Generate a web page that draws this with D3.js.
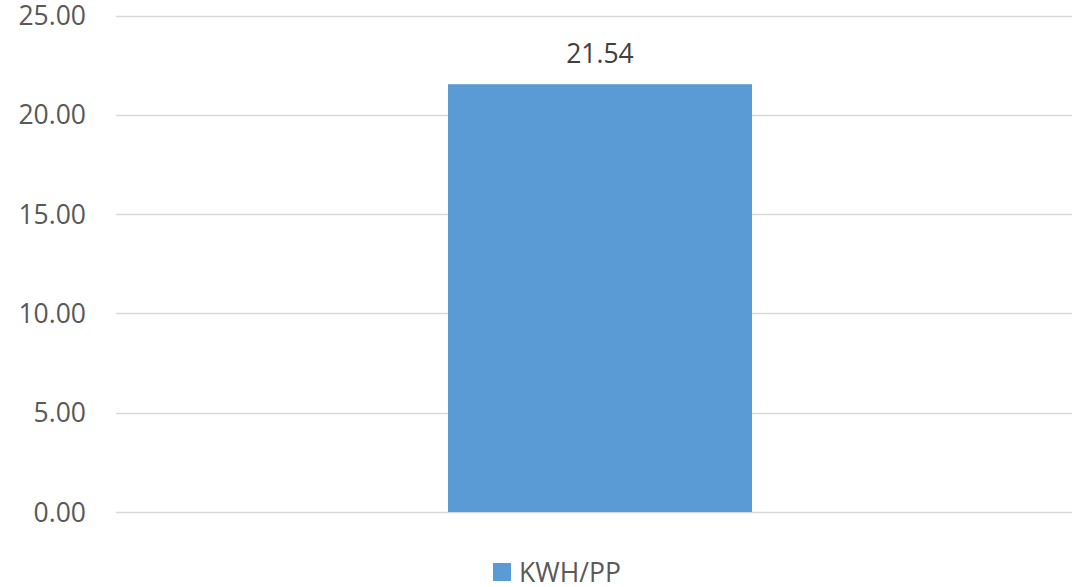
<!DOCTYPE html>
<html>
<head>
<meta charset="utf-8">
<script src="https://d3js.org/d3.v7.min.js"></script>
<style>
  body { margin: 0; background: #fff; }
  svg { display: block; font-family: "Open Sans", "Noto Sans", sans-serif; }
</style>
</head>
<body>
<svg></svg>
<script>
// chart data
const categories = ['KWH/PP'];
const values = [21.54];
const yTicks = [0, 5, 10, 15, 20, 25];
const seriesName = 'KWH/PP';

const width = 1072, height = 587;
const svg = d3.select('svg').attr('width', width).attr('height', height);

const x = d3.scaleBand()
    .domain(categories)
    .range([116, 1084])
    .padding(0.522);

const y = d3.scaleLinear()
    .domain([0, 25])
    .range([512, 15.5]);

// gridlines
svg.append('g')
  .selectAll('line')
  .data(yTicks)
  .join('line')
    .attr('x1', 116)
    .attr('x2', width)
    .attr('y1', d => Math.round(y(d)) + 0.5)
    .attr('y2', d => Math.round(y(d)) + 0.5)
    .attr('stroke', '#d9d9d9')
    .attr('stroke-width', 1.5);

// y axis labels
svg.append('g')
  .selectAll('text')
  .data(yTicks)
  .join('text')
    .attr('x', 86)
    .attr('y', d => y(d))
    .attr('dy', '0.36em')
    .attr('text-anchor', 'end')
    .attr('font-size', 26.5)
    .attr('fill', '#595959')
    .text(d => d3.format('.2f')(d));

// bars
svg.append('g')
  .selectAll('rect')
  .data(values)
  .join('rect')
    .attr('x', (d, i) => x(categories[i]))
    .attr('y', d => y(d))
    .attr('width', x.bandwidth())
    .attr('height', d => y(0) - y(d))
    .attr('fill', '#5b9bd5');

// data labels
svg.append('g')
  .selectAll('text')
  .data(values)
  .join('text')
    .attr('x', (d, i) => x(categories[i]) + x.bandwidth() / 2)
    .attr('y', d => y(d) - 21)
    .attr('text-anchor', 'middle')
    .attr('font-size', 26.5)
    .attr('fill', '#404040')
    .text(d => d3.format('.2f')(d));

// legend
const legend = svg.append('g').attr('transform', 'translate(493,563)');
legend.append('rect')
    .attr('width', 18).attr('height', 18)
    .attr('fill', '#5b9bd5');
legend.append('text')
    .attr('x', 26)
    .attr('y', 9)
    .attr('dy', '0.36em')
    .attr('font-size', 26.5)
    .attr('fill', '#595959')
    .text(seriesName);
</script>
</body>
</html>
